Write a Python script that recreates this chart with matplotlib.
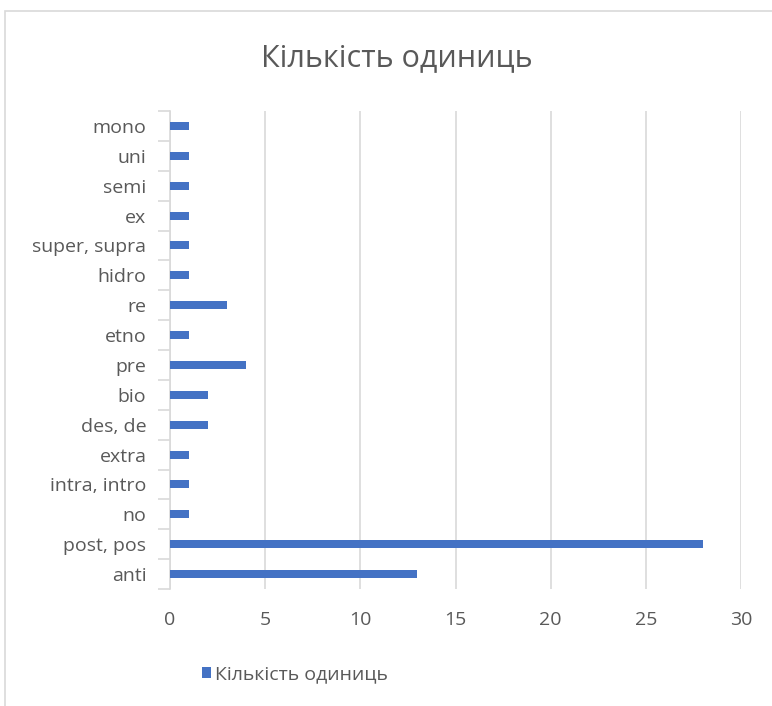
import numpy as np
import matplotlib.pyplot as plt
from matplotlib.patches import Rectangle

# prefixes, bottom to top
prefixes = ["anti", "post, pos", "no", "intra, intro", "extra", "des, de", "bio",
            "pre", "etno", "re", "hidro", "super, supra", "ex", "semi", "uni", "mono"]
counts = [13, 28, 1, 1, 1, 2, 2, 4, 1, 3, 1, 1, 1, 1, 1, 1]
x_ticks = [0, 5, 10, 15, 20, 25, 30]

plt.rcParams['font.family'] = ['Open Sans', 'DejaVu Sans']
text_color = "#595959"
grid_color = "#d9d9d9"
bar_color = "#4472C4"

fig = plt.figure(figsize=(7.72, 7.06), dpi=100)

# outer chart border
fig.patches.append(Rectangle((5 / 772, -0.1), 1.2, 1 - 11 / 706 + 0.1,
                             transform=fig.transFigure, fill=False,
                             edgecolor=grid_color, linewidth=1.2))

ax = fig.add_axes([170 / 772, 1 - 589 / 706, 571 / 772, 478 / 706])
y = np.arange(len(prefixes))
ax.barh(y, counts, height=0.27, color=bar_color, label="Кількість одиниць", zorder=3)

ax.set_xlim(0, 30)
ax.set_ylim(-0.5, len(prefixes) - 0.5)
ax.set_xticks(x_ticks)
ax.set_yticks(y)
ax.set_yticklabels(prefixes)
ax.set_yticks(np.arange(-0.5, len(prefixes)), minor=True)

ax.xaxis.grid(True, color=grid_color, linewidth=1.2, zorder=0)
for s in ["top", "right", "bottom"]:
    ax.spines[s].set_visible(False)
ax.spines["left"].set_color(grid_color)
ax.spines["left"].set_linewidth(1.2)

ax.tick_params(axis="x", length=0, pad=16, labelsize=14, labelcolor=text_color)
ax.tick_params(axis="y", which="major", length=0, pad=17, labelsize=14, labelcolor=text_color)
ax.tick_params(axis="y", which="minor", length=9, width=1.2, color=grid_color)

fig.text(397 / 772, 1 - 58 / 706, "Кількість одиниць", ha="center", va="center",
         fontsize=22, color=text_color)

ax.legend(loc="center left", bbox_to_anchor=(184 / 772, 1 - 674 / 706),
          bbox_transform=fig.transFigure, frameon=False, fontsize=14,
          labelcolor=text_color, handlelength=0.5, handleheight=0.5,
          handletextpad=0.2)

fig.savefig("out.png", dpi=100)
